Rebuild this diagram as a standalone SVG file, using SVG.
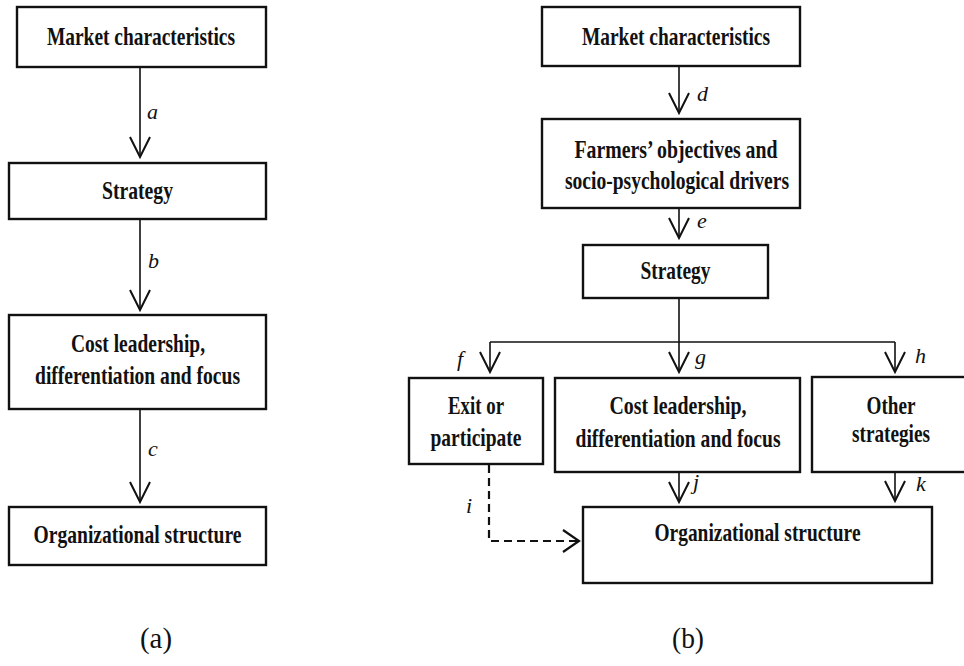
<svg xmlns="http://www.w3.org/2000/svg" width="964" height="666" viewBox="0 0 964 666">
<style>
.box{fill:#fff;stroke:#111;stroke-width:2.4}
.t{font-family:"Liberation Serif","Times New Roman",serif;font-weight:bold;font-size:26px;fill:#111;text-anchor:middle}
.lb{font-family:"Liberation Serif","Times New Roman",serif;font-style:italic;font-size:22px;fill:#111}
.cap{font-family:"Liberation Serif","Times New Roman",serif;font-size:29px;fill:#111;text-anchor:middle}
.ln{fill:none;stroke:#111;stroke-width:1.6}
.dash{fill:none;stroke:#111;stroke-width:2.2;stroke-dasharray:8 5}
</style>
<defs>
<marker id="v" markerUnits="userSpaceOnUse" viewBox="-22 -12 24 24" refX="0" refY="0" markerWidth="24" markerHeight="24" orient="auto" overflow="visible">
<path d="M-20,-10 L0,0 L-20,10" fill="none" stroke="#111" stroke-width="2"/>
</marker>
<marker id="vd" markerUnits="userSpaceOnUse" viewBox="-22 -12 24 24" refX="0" refY="0" markerWidth="24" markerHeight="24" orient="auto" overflow="visible">
<path d="M-16,-11 L0,0 L-16,11" fill="none" stroke="#111" stroke-width="2.2"/>
</marker>
</defs>
<g id="connectors">
<line class="ln" x1="140" y1="67" x2="140" y2="157" marker-end="url(#v)"/>
<line class="ln" x1="140" y1="219" x2="140" y2="310" marker-end="url(#v)"/>
<line class="ln" x1="140" y1="409" x2="140" y2="502" marker-end="url(#v)"/>
<line class="ln" x1="679" y1="66" x2="679" y2="113" marker-end="url(#v)"/>
<line class="ln" x1="679" y1="208" x2="679" y2="238" marker-end="url(#v)"/>
<line class="ln" x1="679" y1="298" x2="679" y2="342"/>
<line class="ln" x1="490" y1="342" x2="895" y2="342"/>
<line class="ln" x1="490" y1="342" x2="490" y2="372" marker-end="url(#v)"/>
<line class="ln" x1="679" y1="342" x2="679" y2="372" marker-end="url(#v)"/>
<line class="ln" x1="895" y1="342" x2="895" y2="372" marker-end="url(#v)"/>
<line class="ln" x1="679" y1="472" x2="679" y2="502" marker-end="url(#v)"/>
<line class="ln" x1="895" y1="472" x2="895" y2="501" marker-end="url(#v)"/>
<polyline class="dash" points="489,465 489,541 579,541" marker-end="url(#vd)"/>
<text class="lb" x="147" y="119">a</text>
<text class="lb" x="148" y="268">b</text>
<text class="lb" x="148" y="456">c</text>
<text class="lb" x="697" y="101">d</text>
<text class="lb" x="697" y="228">e</text>
<text class="lb" x="457" y="366">f</text>
<text class="lb" x="695" y="364">g</text>
<text class="lb" x="915" y="363">h</text>
<text class="lb" x="466" y="513">i</text>
<text class="lb" x="693" y="489">j</text>
<text class="lb" x="916" y="491">k</text>
</g>
<g id="a-market">
<rect class="box" x="17" y="7" width="249" height="60"/>
<text class="t" x="141" y="45" textLength="188" lengthAdjust="spacingAndGlyphs">Market characteristics</text>
</g>
<g id="a-strategy">
<rect class="box" x="9" y="163" width="257" height="56"/>
<text class="t" x="137.5" y="199" textLength="71" lengthAdjust="spacingAndGlyphs">Strategy</text>
</g>
<g id="a-cost">
<rect class="box" x="9" y="315" width="257" height="94"/>
<text class="t" x="138" y="352" textLength="134" lengthAdjust="spacingAndGlyphs">Cost leadership,</text>
<text class="t" x="137.5" y="384" textLength="205" lengthAdjust="spacingAndGlyphs">differentiation and focus</text>
</g>
<g id="a-org">
<rect class="box" x="9" y="507" width="257" height="58"/>
<text class="t" x="137.5" y="543" textLength="208" lengthAdjust="spacingAndGlyphs">Organizational structure</text>
</g>
<g id="b-market">
<rect class="box" x="542" y="7" width="258" height="59"/>
<text class="t" x="676" y="45" textLength="188" lengthAdjust="spacingAndGlyphs">Market characteristics</text>
</g>
<g id="b-farmers">
<rect class="box" x="542" y="119" width="258" height="89"/>
<text class="t" x="676" y="158" textLength="203" lengthAdjust="spacingAndGlyphs">Farmers’ objectives and</text>
<text class="t" x="677" y="189" textLength="224" lengthAdjust="spacingAndGlyphs">socio-psychological drivers</text>
</g>
<g id="b-strategy">
<rect class="box" x="583" y="245" width="185" height="53"/>
<text class="t" x="675.5" y="279" textLength="70" lengthAdjust="spacingAndGlyphs">Strategy</text>
</g>
<g id="b-exit">
<rect class="box" x="409" y="378" width="134" height="86"/>
<text class="t" x="476" y="414" textLength="56" lengthAdjust="spacingAndGlyphs">Exit or</text>
<text class="t" x="476" y="446" textLength="91" lengthAdjust="spacingAndGlyphs">participate</text>
</g>
<g id="b-cost">
<rect class="box" x="555" y="378" width="245" height="94"/>
<text class="t" x="678" y="414" textLength="137" lengthAdjust="spacingAndGlyphs">Cost leadership,</text>
<text class="t" x="678" y="447" textLength="205" lengthAdjust="spacingAndGlyphs">differentiation and focus</text>
</g>
<g id="b-other">
<rect class="box" x="812" y="377" width="170" height="95"/>
<text class="t" x="891" y="414" textLength="49" lengthAdjust="spacingAndGlyphs">Other</text>
<text class="t" x="891" y="442" textLength="78" lengthAdjust="spacingAndGlyphs">strategies</text>
</g>
<g id="b-org">
<rect class="box" x="583" y="507" width="349" height="76"/>
<text class="t" x="757.5" y="541" textLength="206" lengthAdjust="spacingAndGlyphs">Organizational structure</text>
</g>
<g id="captions">
<text class="cap" x="156" y="648" textLength="32" lengthAdjust="spacingAndGlyphs">(a)</text>
<text class="cap" x="688" y="648" textLength="32" lengthAdjust="spacingAndGlyphs">(b)</text>
</g>
</svg>
